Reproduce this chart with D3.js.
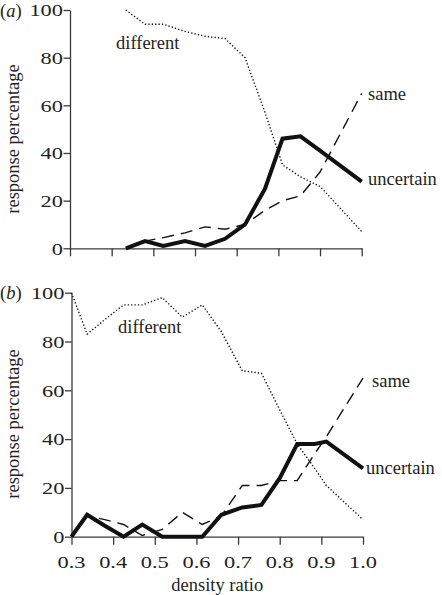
<!DOCTYPE html>
<html>
<head>
<meta charset="utf-8">
<script src="https://cdn.jsdelivr.net/npm/d3@7"></script>
<style>
  html, body { margin: 0; padding: 0; background: #fff; }
  svg { display: block; }
  text { font-family: "Liberation Serif", "Times New Roman", Times, serif; fill: #231f20; }
</style>
</head>
<body>
<svg id="chart" width="442" height="595"></svg>
<script>
// ---------- data ----------
const panelLabels = ["a", "b"];
const seriesNames = ["different", "same", "uncertain"];
const yTicks = [0, 20, 40, 60, 80, 100];
const xTicks = [0.3, 0.4, 0.5, 0.6, 0.7, 0.8, 0.9, 1.0];
const xTickLabels = ["0.3", "0.4", "0.5", "0.6", "0.7", "0.8", "0.9", "1.0"];

// panel (a)
const ratioA     = [0.434, 0.48, 0.524, 0.576, 0.624, 0.672, 0.72, 0.768, 0.81, 0.853, 0.9, 1.0];
const uncertainA = [0, 3, 1, 3, 1, 4, 10, 25, 46, 47, 41, 28];
const sameA      = [0, 3, 4.5, 6.5, 9, 8, 10, 16, 20, 22, 32, 65];
const differentA = [100, 94, 94, 91, 89, 88, 80, 57, 35, 30, 26, 7];

// panel (b)
const ratioB     = [0.3, 0.3375, 0.38, 0.425, 0.47, 0.518, 0.566, 0.614, 0.66, 0.71, 0.756, 0.8, 0.842, 0.884, 0.912, 1.0];
const uncertainB = [0, 9, 4.5, 0, 5, 0, 0, 0, 9, 12, 13, 24, 38, 38, 39, 28];
const sameB      = [0, 8.5, 7, 5, 0.5, 3, 10, 5, 8.5, 21, 21, 23, 23, 34, 41, 65];
const differentB = [100, 83, 89, 95, 95, 98, 90, 95, 84, 68, 67, 52, 38, 28, 21, 7];

// ---------- layout ----------
const svg = d3.select("#chart");
const panels = [
  { label: panelLabels[0], ratio: ratioA, series: [differentA, sameA, uncertainA],
    xr: [70, 361.7], yr: [248.3, 10], showX: false,
    ylabY: 139,
    names: [{x: 116, y: 49}, {x: 368, y: 100}, {x: 368, y: 185}] },
  { label: panelLabels[1], ratio: ratioB, series: [differentB, sameB, uncertainB],
    xr: [71.5, 363], yr: [536.7, 292.7], showX: true,
    ylabY: 424,
    names: [{x: 118, y: 333}, {x: 372, y: 387}, {x: 366, y: 474}] }
];

const styles = [
  { width: 1.4, dash: "1.3,2.1" },
  { width: 1.4, dash: "12,7" },
  { width: 4, dash: null }
];

const axisColor = "#3a3a3a";

panels.forEach(p => {
  const x = d3.scaleLinear().domain([0.3, 1.0]).range(p.xr);
  const y = d3.scaleLinear().domain([0, 100]).range(p.yr);
  const g = svg.append("g");

  // y axis
  const ya = g.append("g").attr("transform", `translate(${p.xr[0]},0)`)
    .call(d3.axisLeft(y).tickValues(yTicks).tickSize(6.5).tickSizeOuter(0).tickFormat(""));
  ya.selectAll("path, line").attr("stroke", axisColor).attr("stroke-width", 1.3);

  // x axis
  const xa = g.append("g").attr("transform", `translate(0,${p.yr[0]})`)
    .call(d3.axisBottom(x).tickValues(xTicks).tickSize(8).tickSizeOuter(0).tickFormat(""));
  xa.selectAll("path, line").attr("stroke", axisColor).attr("stroke-width", 1.3);

  // y tick labels (wide digits)
  g.selectAll(".ylab").data(yTicks).enter().append("text")
    .attr("transform", d => `translate(${p.xr[0] - 7},${y(d) + 6.3}) scale(1.28,1)`)
    .attr("text-anchor", "end")
    .style("font-size", "17.5px")
    .text(d => d);

  // x tick labels
  if (p.showX) {
    g.selectAll(".xlab").data(xTicks).enter().append("text")
      .attr("transform", (d) => `translate(${x(d)},${p.yr[0] + 31.5}) scale(1.28,1)`)
      .attr("text-anchor", "middle")
      .style("font-size", "17.5px")
      .text((d, i) => xTickLabels[i]);
    g.append("text")
      .attr("x", (p.xr[0] + p.xr[1]) / 2).attr("y", p.yr[0] + 54)
      .attr("text-anchor", "middle")
      .style("font-size", "18.5px")
      .text("density ratio");
  }

  // y label
  g.append("text")
    .attr("transform", `translate(18.5,${p.ylabY}) rotate(-90)`)
    .attr("text-anchor", "middle")
    .style("font-size", "18.5px")
    .text("response percentage");

  // panel label
  const pl = g.append("text")
    .attr("x", 0).attr("y", p.yr[1] + 6.5)
    .style("font-size", "18.5px");
  pl.append("tspan").text("(");
  pl.append("tspan").style("font-style", "italic").text(p.label);
  pl.append("tspan").text(")");

  // lines
  const line = d3.line().x((d, i) => x(p.ratio[i])).y(d => y(d));
  p.series.forEach((vals, si) => {
    g.append("path")
      .datum(vals)
      .attr("d", line)
      .attr("fill", "none")
      .attr("stroke", "#111")
      .attr("stroke-width", styles[si].width)
      .attr("stroke-linejoin", "miter")
      .attr("stroke-dasharray", styles[si].dash);
  });

  // series names
  seriesNames.forEach((n, si) => {
    g.append("text")
      .attr("x", p.names[si].x).attr("y", p.names[si].y)
      .style("font-size", "18.5px")
      .text(n);
  });
});
</script>
</body>
</html>
